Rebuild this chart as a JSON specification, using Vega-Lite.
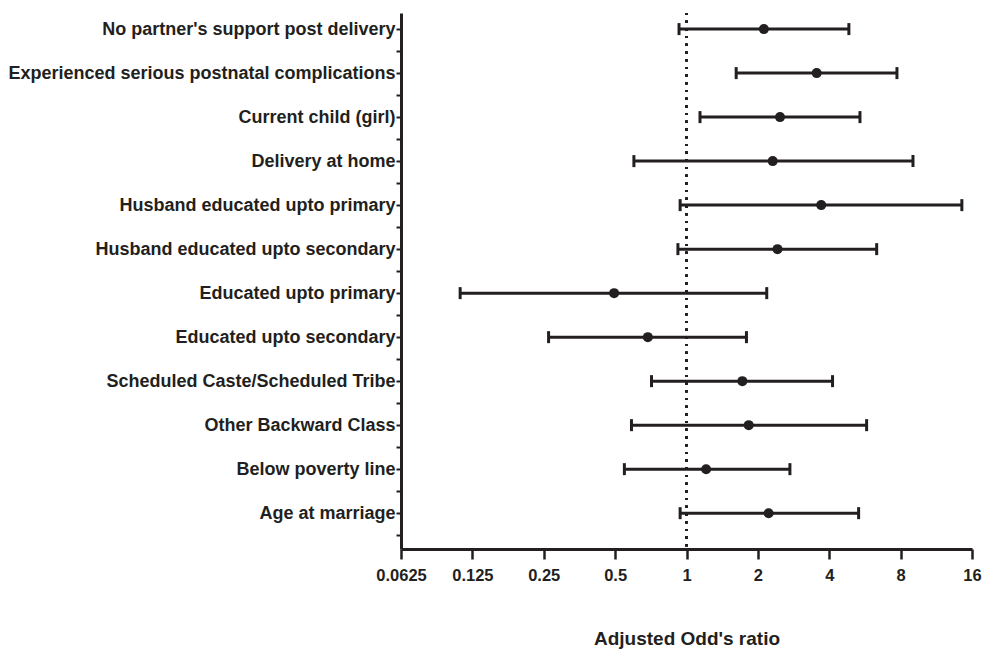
{
  "$schema": "https://vega.github.io/schema/vega-lite/v6.json",
  "width": 571,
  "height": 536,
  "autosize": {"type": "none"},
  "padding": {"left": 401, "top": 13, "right": 18, "bottom": 103},
  "background": "white",
  "config": {
    "view": {"stroke": null},
    "font": "Liberation Sans",
    "axis": {"grid": false, "domainColor": "#231f20", "tickColor": "#231f20", "labelColor": "#231f20", "titleColor": "#231f20"}
  },
  "data": {
    "values": [
      {"factor": "No partner's support post delivery", "or": 2.12, "lo": 0.93, "hi": 4.84},
      {"factor": "Experienced serious postnatal complications", "or": 3.54, "lo": 1.62, "hi": 7.72},
      {"factor": "Current child (girl)", "or": 2.48, "lo": 1.14, "hi": 5.39},
      {"factor": "Delivery at home", "or": 2.31, "lo": 0.60, "hi": 9.02},
      {"factor": "Husband educated upto primary", "or": 3.70, "lo": 0.94, "hi": 14.5},
      {"factor": "Husband educated upto secondary", "or": 2.42, "lo": 0.92, "hi": 6.34},
      {"factor": "Educated upto primary", "or": 0.495, "lo": 0.111, "hi": 2.18},
      {"factor": "Educated upto secondary", "or": 0.687, "lo": 0.262, "hi": 1.79},
      {"factor": "Scheduled Caste/Scheduled Tribe", "or": 1.72, "lo": 0.712, "hi": 4.13},
      {"factor": "Other Backward Class", "or": 1.83, "lo": 0.586, "hi": 5.75},
      {"factor": "Below poverty line", "or": 1.21, "lo": 0.547, "hi": 2.73},
      {"factor": "Age at marriage", "or": 2.22, "lo": 0.94, "hi": 5.32}
    ]
  },
  "resolve": {"scale": {"y": "independent"}, "axis": {"y": "independent"}},
  "layer": [
    {
      "layer": [
        {
          "mark": {"type": "rule", "strokeDash": [2, 5.7], "strokeWidth": 2.2, "color": "#231f20"},
          "encoding": {"x": {"datum": 1, "type": "quantitative"}}
        },
        {
          "mark": {"type": "rule", "strokeWidth": 3, "color": "#231f20"},
          "encoding": {
            "x": {
              "field": "lo",
              "type": "quantitative",
              "scale": {"type": "log", "base": 2, "domain": [0.0625, 16], "nice": false},
              "axis": {
                "values": [0.0625, 0.125, 0.25, 0.5, 1, 2, 4, 8, 16],
                "labelExpr": "'' + datum.value",
                "title": "Adjusted Odd's ratio",
                "titleFontSize": 19,
                "titleFontWeight": "bold",
                "titlePadding": 46,
                "labelFontSize": 16.5,
                "labelFontWeight": "bold",
                "labelPadding": 8,
                "labelFlush": false,
                "tickSize": 10,
                "tickWidth": 2.5,
                "domainWidth": 3
              }
            },
            "x2": {"field": "hi"},
            "y": {
              "field": "factor",
              "type": "nominal",
              "sort": null,
              "scale": {"type": "point", "padding": 0.59, "align": 0.31},
              "axis": {
                "title": null,
                "orient": "left",
                "labelFontSize": 18,
                "labelFontWeight": "bold",
                "labelPadding": 1,
                "tickSize": 5,
                "tickWidth": 2,
                "domainWidth": 3,
                "labelLimit": 500
              }
            }
          }
        },
        {
          "mark": {"type": "tick", "orient": "vertical", "size": 12, "thickness": 3, "opacity": 1, "color": "#231f20"},
          "encoding": {"x": {"field": "lo", "type": "quantitative"}, "y": {"field": "factor", "type": "nominal", "sort": null}}
        },
        {
          "mark": {"type": "tick", "orient": "vertical", "size": 12, "thickness": 3, "opacity": 1, "color": "#231f20"},
          "encoding": {"x": {"field": "hi", "type": "quantitative"}, "y": {"field": "factor", "type": "nominal", "sort": null}}
        },
        {
          "mark": {"type": "circle", "size": 100, "opacity": 1, "color": "#231f20"},
          "encoding": {"x": {"field": "or", "type": "quantitative"}, "y": {"field": "factor", "type": "nominal", "sort": null}}
        }
      ]
    },
    {
      "mark": {"type": "point", "opacity": 0},
      "encoding": {
        "x": {"datum": 1, "type": "quantitative"},
        "y": {
          "datum": 1,
          "type": "quantitative",
          "scale": {"domain": [0.636, 12.818], "reverse": true, "nice": false, "zero": false},
          "axis": {
            "orient": "left",
            "values": [1.5, 2.5, 3.5, 4.5, 5.5, 6.5, 7.5, 8.5, 9.5, 10.5, 11.5, 12.5],
            "labels": false,
            "domain": false,
            "title": null,
            "tickSize": 5,
            "tickWidth": 2,
            "offset": 0
          }
        }
      }
    }
  ]
}
